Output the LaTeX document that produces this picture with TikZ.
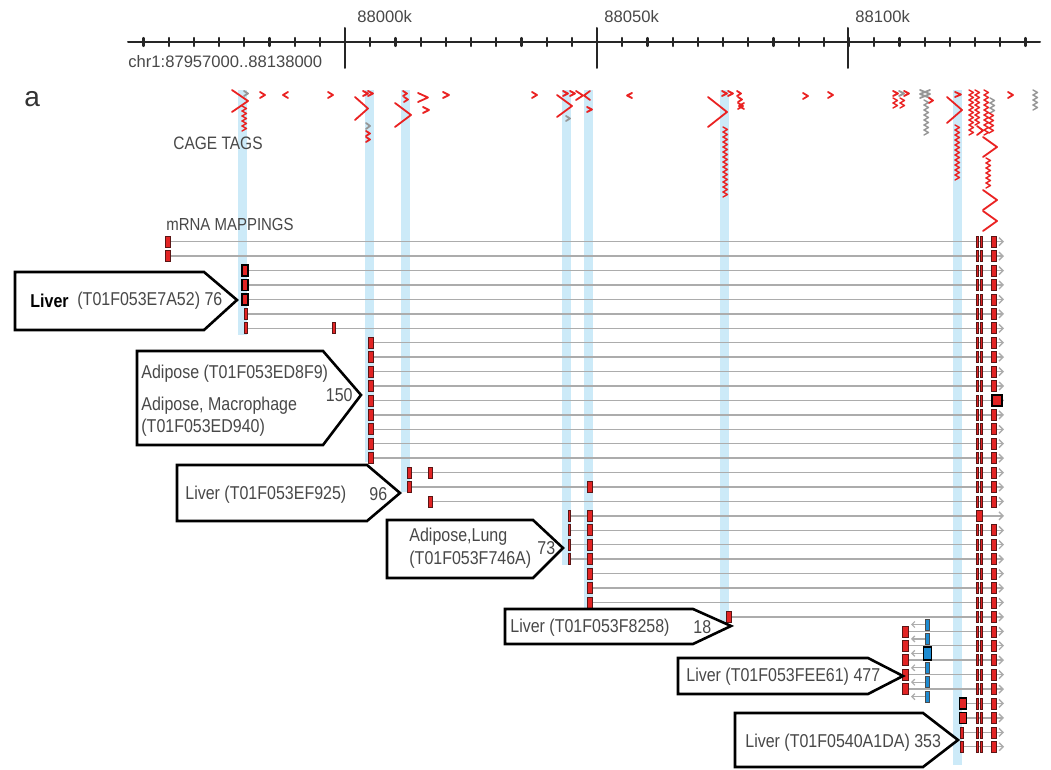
\documentclass[tikz,border=0pt]{standalone}
\usepackage{fontspec}
\setmainfont{Liberation Sans}
\newfontfamily\lblfont[FakeStretch=0.86]{Liberation Sans}
\usetikzlibrary{arrows.meta}
\definecolor{hlblue}{RGB}{204,234,248}
\definecolor{cagered}{RGB}{234,34,34}
\definecolor{cagegray}{RGB}{150,150,150}
\definecolor{exred}{RGB}{226,36,36}
\definecolor{exedge}{RGB}{90,22,22}
\definecolor{exblue}{RGB}{30,140,210}
\definecolor{rowgray}{RGB}{172,172,172}
\definecolor{txtgray}{RGB}{72,72,72}
\newcommand{\cagetag}[5][cagered]{\draw[cage,#1] (#2,#3) -- ++(#4,{(#5)/2}) -- ++({-(#4)},{(#5)/2});}
\newcommand{\cagechain}[4][cagered]{\foreach \k in {1,...,#4} \draw[cage,line width=0.7pt,#1] (#2,{#3+5*(\k-1)}) -- ++(4.5,2.5) -- ++(-4.5,2.5);}
\newcommand{\ex}[4][]{\draw[ex,#1] ({#2-(#4)/2},{#3-5.5}) rectangle ({#2+(#4)/2},{#3+5.5});}

\begin{document}
\begin{tikzpicture}[line cap=round,line join=round,x=0.5pt,y=-0.5pt,
  strip/.style={fill=hlblue,draw=none},
  cage/.style={draw=cagered,line width=0.9pt},
  mrna/.style={draw=rowgray,line width=0.7pt,-{Straight Barb[length=2pt,width=4pt]}},
  ex/.style={fill=exred,draw=exedge,line width=0.3pt,line join=miter},
  callout/.style={draw=black,fill=white,line width=1.3pt,line join=miter},
  lbl/.style={font=\lblfont\fontsize{9.3}{11}\selectfont,text=txtgray,inner sep=0pt,anchor=west},
  axlbl/.style={font=\fontsize{8.3}{10}\selectfont,text=txtgray,inner sep=0pt,anchor=west}]
\useasboundingbox (0,0) rectangle (1051,770);
\fill[white] (0,0) rectangle (1051,770);

\foreach \xa/\xb/\ye in {238/247/335,365/374/462,401/410/492,562/571/565,584/593/608,720/729/623,953/962/765}
  \fill[strip] (\xa,90) rectangle (\xb,\ye);

\draw[line width=1pt,black!85] (128,42) -- (1040,42);
\foreach \k in {-8,...,27}{
  \pgfmathsetmacro\tx{345+25.2*\k}
  \draw[line width=1.1pt,black!85] (\tx,38) -- (\tx,46);
}
\foreach \tx in {345,597,848}
  \draw[line width=1pt,black!85] (\tx,28) -- (\tx,68);
\node[axlbl] (k88000) at (357,17) {88000k};
\node[axlbl] (k88050) at (604,17) {88050k};
\node[axlbl] (k88100) at (855,17) {88100k};
\node[axlbl] (region) at (128,62) {chr1:87957000..88138000};
\node[inner sep=0pt,anchor=west,text=black!80,font=\fontsize{14}{16}\selectfont] (panel) at (24,99) {a};

\cagetag{232}{90}{16}{22}
\cagechain{242}{106}{5}
\cagetag[cagegray]{244}{91}{4}{5}
\cagetag{260}{92}{5}{6}
\cagetag{288}{92}{-5}{6}
\cagetag{328}{92}{5}{6}
\cagetag{363}{91}{5}{5}
\cagetag{368}{91}{5}{5}
\cagetag{355}{97}{13}{23}
\cagetag[cagegray]{366}{123}{4}{6}
\cagetag{366}{131}{4}{5}
\cagetag{366}{137}{4}{5}
\cagetag{403}{91}{4}{5}
\cagetag{404}{97}{4}{5}
\cagetag{395}{103}{16}{24}
\cagetag{418}{93}{10}{9}
\cagetag{423}{107}{6}{6}
\cagetag{443}{92}{6}{6}
\cagetag{532}{92}{5}{6}
\cagetag{557}{95}{15}{22}
\cagetag{563}{91}{5}{5}
\cagetag{570}{91}{5}{5}
\cagetag{576}{91}{7}{9}
\cagetag{590}{91}{-6}{9}
\cagetag{587}{107}{5}{5}
\cagetag[cagegray]{566}{116}{4}{5}
\cagetag{632}{93}{-5}{5}
\cagetag{708}{97}{19}{30}
\cagetag{722}{91}{5}{5}
\cagetag{728}{91}{5}{5}
\cagetag{737}{91}{4}{5}
\cagetag{738}{97}{4}{5}
\cagetag{738}{103}{5}{6}
\cagetag{744}{103}{-5}{6}
\cagechain{723}{127}{14}
\cagetag{803}{93}{5}{6}
\cagetag{828}{92}{5}{6}
\cagetag{893}{91}{5}{5}
\cagetag[cagegray]{899}{91}{5}{5}
\cagetag{904}{91}{5}{5}
\cagechain{893}{98}{2}
\cagechain{900}{98}{2}
\cagetag[cagegray]{920}{90}{10}{8}
\cagetag[cagegray]{930}{90}{-10}{8}
\cagechain[cagegray]{924}{100}{7}
\cagetag{929}{98}{4}{5}
\cagetag{955}{92}{6}{5}
\cagetag{947}{97}{15}{26}
\cagechain{955}{125}{11}
\cagechain{969}{90}{9}
\cagechain{975}{90}{7}
\cagetag{977}{126}{6}{9}
\cagechain{984}{90}{9}
\cagechain[cagegray]{990}{98}{3}
\cagechain{989}{113}{4}
\cagetag{983}{137}{14}{20}
\cagechain{986}{158}{6}
\cagetag{983}{190}{14}{20}
\cagetag{983}{211}{14}{20}
\cagetag{1008}{92}{5}{6}
\cagechain[cagegray]{1033}{90}{4}

\node[lbl,font=\lblfont\fontsize{9}{11}\selectfont] (cagetitle) at (173,143) {CAGE TAGS};
\node[lbl,font=\lblfont\fontsize{8.7}{11}\selectfont] (mrnatitle) at (166,225) {mRNA MAPPINGS};

\foreach \i/\sx in {0/168,1/168,2/245,3/245,4/245,5/245,6/245,7/371,8/371,9/371,10/371,11/371,12/371,13/371,14/371,15/371,16/409,17/409,18/430,19/569,20/569,21/569,22/569,23/590,24/590,25/590,26/729,27/905,28/905,29/905,30/905,31/905,32/962,33/962,34/962,35/962}{
  \pgfmathsetmacro\ry{241.7+14.43*\i}
  \draw[mrna] (\sx,\ry) -- (1004,\ry);
  \ifnum\i=19
    \ex{979}{\ry}{6}
  \else
    \ex{977}{\ry}{2}
    \ex{981}{\ry}{2}
    \ex{994}{\ry}{5}
  \fi
}

\ex{168}{241.7}{5}
\ex{168}{256.1}{5}
\foreach \i in {2,3,4}{
  \pgfmathsetmacro\ry{241.7+14.43*\i}
  \ex[draw=black,line width=0.6pt]{245}{\ry}{6}
}
\foreach \i in {5,6}{
  \pgfmathsetmacro\ry{241.7+14.43*\i}
  \ex{246}{\ry}{3}
}
\ex{334}{328.3}{3}
\foreach \i in {7,...,15}{
  \pgfmathsetmacro\ry{241.7+14.43*\i}
  \ex{371}{\ry}{5}
}
\ex{409}{472.6}{4}
\ex{430}{472.6}{4}
\ex{409}{487.0}{4}
\ex{590}{487.0}{5}
\ex{430}{501.4}{4}
\foreach \i in {19,...,22}{
  \pgfmathsetmacro\ry{241.7+14.43*\i}
  \ex{569}{\ry}{2}
}
\foreach \i in {19,...,25}{
  \pgfmathsetmacro\ry{241.7+14.43*\i}
  \ex{590}{\ry}{5}
}
\ex{729}{616.9}{5}
\foreach \i in {27,...,31}{
  \pgfmathsetmacro\ry{241.7+14.43*\i}
  \ex{905}{\ry}{6}
}
\foreach \k in {0,...,5}{
  \pgfmathsetmacro\by{624.5+14.43*\k}
  \draw[draw=rowgray,line width=0.6pt,-{Straight Barb[length=1.5pt,width=3pt]}] (925,\by) -- (911,\by);
  \ex[fill=exblue,draw=black!70]{927}{\by}{4}
}
\draw[ex,fill=exblue,draw=black,line width=0.6pt] (923.5,647) rectangle (931.5,660);
\foreach \i in {32,33}{
  \pgfmathsetmacro\ry{241.7+14.43*\i}
  \ex[draw=black,line width=0.6pt]{963}{\ry}{7}
}
\foreach \i in {34,35}{
  \pgfmathsetmacro\ry{241.7+14.43*\i}
  \ex{962}{\ry}{3}
}
\draw[ex,draw=black,line width=0.8pt] (992,395) rectangle (1002,406);

\draw[callout] (15,272) -- (204,272) -- (237,300) -- (204,330) -- (15,330) -- cycle;
\node[lbl,text=black] (liverA) at (30,301) {\textbf{Liver}};
\node[lbl] (liverAid) at (77,301) {(T01F053E7A52) 76};

\draw[callout] (137,351) -- (323,351) -- (361,395) -- (323,445) -- (137,445) -- cycle;
\node[lbl] (adiposeA) at (141,374) {Adipose (T01F053ED8F9)};
\node[lbl,anchor=east] (adiposeAn) at (353,395) {150};
\node[lbl] (adiposeB) at (141,406) {Adipose, Macrophage};
\node[lbl] (adiposeBid) at (141,428) {(T01F053ED940)};

\draw[callout] (177,465) -- (367,465) -- (400,493) -- (367,521) -- (177,521) -- cycle;
\node[lbl] (liverB) at (185,495) {Liver (T01F053EF925)};
\node[lbl] (liverBn) at (369,494) {96};

\draw[callout] (387,520) -- (533,520) -- (563,548) -- (533,578) -- (387,578) -- cycle;
\node[lbl] (lung) at (409,537) {Adipose,Lung};
\node[lbl] (lungid) at (409,560) {(T01F053F746A)};
\node[lbl] (lungn) at (537,548) {73};

\draw[callout] (505,609) -- (693,609) -- (731,626) -- (693,644) -- (505,644) -- cycle;
\node[lbl] (liverC) at (510,628) {Liver (T01F053F8258)};
\node[lbl] (liverCn) at (693,627) {18};

\draw[callout] (678,658) -- (868,658) -- (903,676) -- (868,694) -- (678,694) -- cycle;
\node[lbl] (liverD) at (686,677) {Liver (T01F053FEE61) 477};

\draw[callout] (735,713) -- (923,713) -- (958,740) -- (923,767) -- (735,767) -- cycle;
\node[lbl] (liverE) at (745,743) {Liver (T01F0540A1DA) 353};
\end{tikzpicture}
\end{document}
